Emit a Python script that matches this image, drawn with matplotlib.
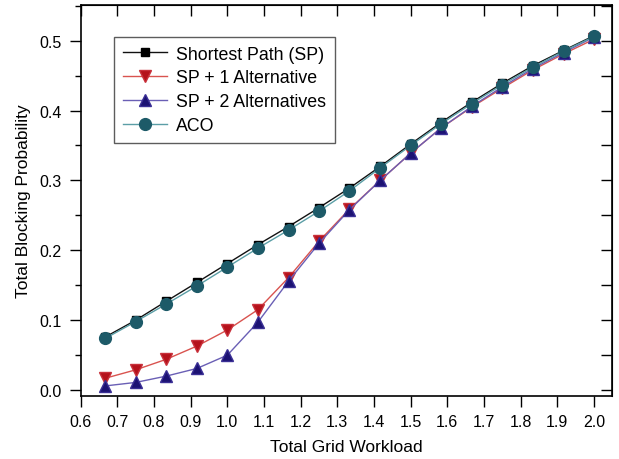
import matplotlib
matplotlib.use("Agg")
import matplotlib.pyplot as plt
from matplotlib.ticker import MultipleLocator

plt.rcParams['font.family'] = ['Liberation Sans', 'DejaVu Sans']

# workload points (1/1.5 ... 2.0 in steps of 1/12)
workload = [0.667, 0.75, 0.833, 0.917, 1.0, 1.083, 1.167, 1.25, 1.333,
            1.417, 1.5, 1.583, 1.667, 1.75, 1.833, 1.917, 2.0]

sp = [0.076, 0.100, 0.127, 0.154, 0.181, 0.208, 0.234, 0.261, 0.289,
      0.320, 0.352, 0.383, 0.412, 0.439, 0.464, 0.486, 0.507]
sp_alt1 = [0.017, 0.029, 0.044, 0.063, 0.086, 0.115, 0.161, 0.213, 0.259,
           0.300, 0.339, 0.375, 0.405, 0.432, 0.458, 0.481, 0.502]
sp_alt2 = [0.006, 0.011, 0.020, 0.031, 0.050, 0.097, 0.156, 0.210, 0.258,
           0.300, 0.339, 0.375, 0.406, 0.434, 0.460, 0.483, 0.505]
aco = [0.074, 0.098, 0.123, 0.149, 0.176, 0.203, 0.229, 0.256, 0.285,
       0.318, 0.350, 0.381, 0.410, 0.437, 0.462, 0.485, 0.506]

labels = ["Shortest Path (SP)", "SP + 1 Alternative", "SP + 2 Alternatives", "ACO"]

fig = plt.figure(figsize=(6.19, 4.6), dpi=100)
ax = fig.add_axes([0.1304, 0.1376, 0.8588, 0.8494])

ax.plot(workload, sp, color="#111111", lw=1.0, marker="s", ms=6,
        mfc="black", mec="black", label=labels[0])
ax.plot(workload, sp_alt1, color="#d9534f", lw=1.0, marker="v", ms=9,
        mfc="#b5121b", mec="#c8303a", label=labels[1])
ax.plot(workload, sp_alt2, color="#6a5fb5", lw=1.0, marker="^", ms=9,
        mfc="#1c1273", mec="#3a2f95", label=labels[2])
ax.plot(workload, aco, color="#5b9ea6", lw=1.0, marker="o", ms=8.5,
        mfc="#1d5a68", mec="#1d5a68", label=labels[3])

ax.set_xlim(0.6, 2.05)
ax.set_ylim(-0.008, 0.551)
ax.xaxis.set_major_locator(MultipleLocator(0.1))
ax.yaxis.set_major_locator(MultipleLocator(0.1))
ax.yaxis.set_minor_locator(MultipleLocator(0.05))
ax.xaxis.set_major_formatter(plt.FormatStrFormatter("%.1f"))
ax.yaxis.set_major_formatter(plt.FormatStrFormatter("%.1f"))

ax.tick_params(axis="both", which="major", direction="out", length=8,
               width=1.0, labelsize=11.5, pad=5.5, top=False, right=False)
ax.tick_params(axis="y", which="minor", direction="out", length=4, width=1.0)

# inward ticks on the top and right edges
top = ax.secondary_xaxis("top")
top.xaxis.set_major_locator(MultipleLocator(0.1))
top.tick_params(direction="in", length=8, width=1.0, labeltop=False)
right = ax.secondary_yaxis("right")
right.yaxis.set_major_locator(MultipleLocator(0.05))
right.tick_params(direction="in", length=8, width=1.0, labelright=False)

for s in ax.spines.values():
    s.set_linewidth(1.2)

ax.set_xlabel("Total Grid Workload", fontsize=12.5, labelpad=7)
ax.set_ylabel("Total Blocking Probability", fontsize=12.5, labelpad=6)

leg = ax.legend(loc="upper left", bbox_to_anchor=(0.0626, 0.919), fontsize=12.8,
                frameon=True, fancybox=False, handlelength=2.5,
                handletextpad=0.5, labelspacing=0.38, borderpad=0.5,
                borderaxespad=0)
leg.get_frame().set_edgecolor("#333333")
leg.get_frame().set_linewidth(1.0)

fig.savefig("out.png", dpi=100)
